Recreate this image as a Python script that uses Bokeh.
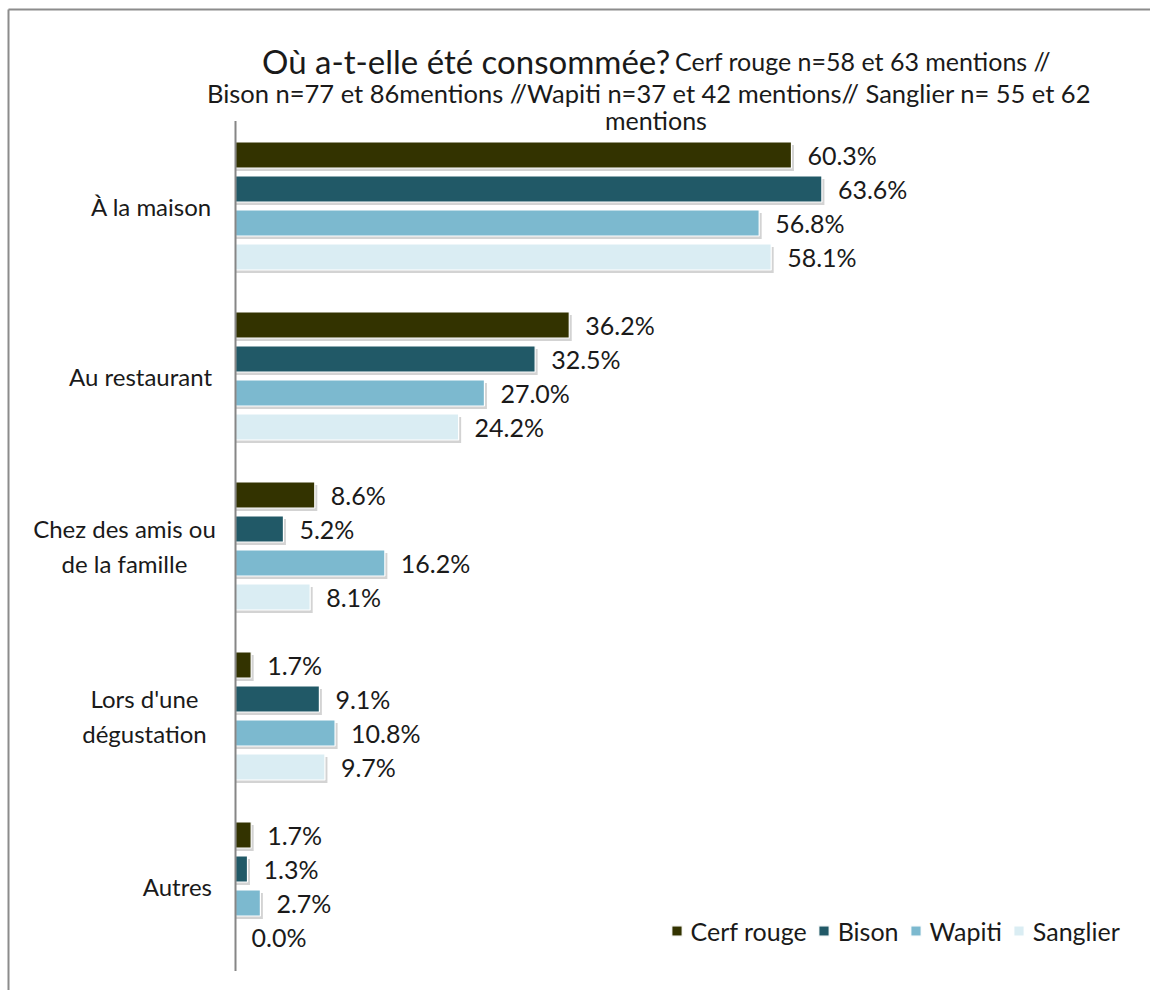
from bokeh.plotting import figure
from bokeh.models import Range1d, Label, Legend, LegendItem, ColumnDataSource
from bokeh.core.properties import value
from bokeh.embed import file_html
from bokeh.resources import INLINE

# ---- data ----
categories = ["À la maison", "Au restaurant", "Chez des amis ou\nde la famille",
              "Lors d'une\ndégustation", "Autres"]
series_names = ["Cerf rouge", "Bison", "Wapiti", "Sanglier"]
cerf_rouge = [60.3, 36.2, 8.6, 1.7, 1.7]
bison = [63.6, 32.5, 5.2, 9.1, 1.3]
wapiti = [56.8, 27.0, 16.2, 10.8, 2.7]
sanglier = [58.1, 24.2, 8.1, 9.7, 0.0]
title_main = "Où a-t-elle été consommée?"
title_sub1 = "Cerf rouge n=58 et 63 mentions //"
title_sub2 = "Bison n=77 et 86mentions //Wapiti n=37 et 42 mentions//   Sanglier n= 55 et 62"
title_sub3 = "mentions"

# ---- layout / style ----
colors = ["#333300", "#215967", "#7CB9CF", "#DAEDF3"]
W, H = 1150, 990
PAGE = 1.5
PX_PER_PCT = 9.22
X0_PX = 236.5 - PAGE          # figure px of x = 0
GROUP_PX = 170.0              # px per category
G0_PX = 207 - PAGE            # figure px of first category centre
FONT = "Lato"
TXT = "#1a1a1a"

def fx(page_x):
    return (page_x - PAGE - X0_PX) / PX_PER_PCT

def fy(page_y):
    return (G0_PX - (page_y - PAGE)) / GROUP_PX

p = figure(width=W, height=H, output_backend="svg", toolbar_location=None,
           x_range=Range1d(-X0_PX / PX_PER_PCT, (W - X0_PX) / PX_PER_PCT),
           y_range=Range1d((G0_PX - H) / GROUP_PX, G0_PX / GROUP_PX),
           x_axis_location=None, y_axis_location=None, min_border=0, title=None)
p.grid.visible = False
p.outline_line_color = None
p.background_fill_color = "white"
p.border_fill_color = "white"

# chart-area border: only the top and left edges fall inside the window
bx, by = fx(9.5), fy(10.5)
p.segment(x0=[bx, bx], y0=[by, by], x1=[fx(PAGE + W + 50), bx], y1=[by, fy(PAGE + H + 50)],
          line_color="#8c8c8c", line_width=2)

ycat = [-i for i in range(len(categories))]
offsets = [0.3, 0.1, -0.1, -0.3]
bar_h = 26 / GROUP_PX
sh_dx = 2.5 / PX_PER_PCT
sh_dy = 3 / GROUP_PX

renderers = []
all_series = [cerf_rouge, bison, wapiti, sanglier]
for k, (vals, col) in enumerate(zip(all_series, colors)):
    ys = [y + offsets[k] for y in ycat]
    # shadow
    p.hbar(y=[y - sh_dy for y in ys], left=0, right=[v + sh_dx if v > 0 else 0 for v in vals],
           height=bar_h, fill_color="#808080", fill_alpha=0.35, line_color=None)
    src = ColumnDataSource(dict(y=ys, v=vals, lab=[f"{v:.1f}%" for v in vals]))
    r = p.hbar(y="y", left=0, right="v", height=bar_h, source=src,
               fill_color=col, line_color="white", line_width=1.2)
    renderers.append(r)
    p.text(x="v", y="y", text="lab", source=src, x_offset=16, text_baseline="middle",
           text_align="left", text_font=value(FONT), text_font_size="25px", text_color=TXT)

# axis line
p.segment(x0=[0], y0=[ycat[0] + 0.5], x1=[0], y1=[ycat[-1] - 0.5],
          line_color="#868686", line_width=2)

# category labels
cat_align = ["right", "right", "center", "center", "right"]
cat_xoff = [-23.5, -23.5, -111, -91, -23.5]
csrc = ColumnDataSource(dict(y=ycat, text=categories, align=cat_align, xoff=cat_xoff))
p.text(x=0, y="y", text="text", source=csrc, x_offset="xoff", text_align="align",
       text_baseline="middle", text_font=value(FONT), text_font_size="24px",
       text_color=TXT, text_line_height=1.2)

# title
for txt, px, py, size, align in [(title_main, 263, 62, "33px", "left"),
                                 (title_sub1, 676, 62, "25px", "left"),
                                 (title_sub2, 656.5, 94, "25.5px", "center"),
                                 (title_sub3, 657, 121, "25px", "center")]:
    p.add_layout(Label(x=fx(px), y=fy(py), text=txt, text_font=FONT, text_font_size=size,
                       text_align=align, text_baseline="alphabetic", text_color=TXT))

legend = Legend(items=[LegendItem(label=n, renderers=[r]) for n, r in zip(series_names, renderers)],
                orientation="horizontal", location=(671 - PAGE, H - (933 - PAGE) - 14),
                glyph_width=13, glyph_height=13,
                label_standoff=8, spacing=10, padding=0, margin=0, border_line_color=None,
                background_fill_alpha=0, label_text_font=FONT, label_text_font_size="25px",
                label_text_color=TXT)
p.add_layout(legend)

open("out.html", "w").write(file_html(p, INLINE))
